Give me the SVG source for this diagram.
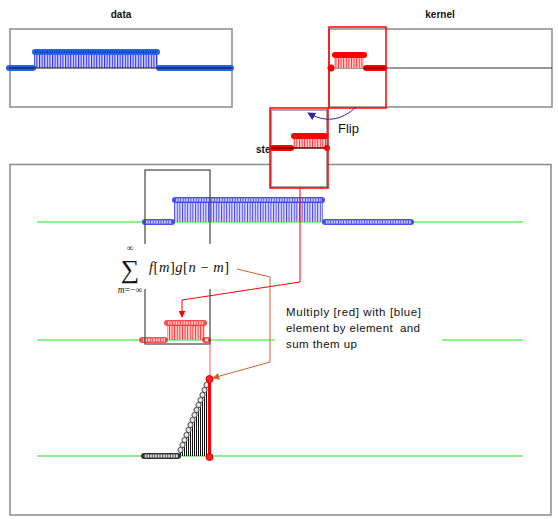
<svg xmlns="http://www.w3.org/2000/svg" width="559" height="519" viewBox="0 0 559 519">
<style>
.frame{fill:#fff;stroke:#8a8a8a;stroke-width:1.5}
.title{font-family:"Liberation Sans",Arial,sans-serif;font-weight:bold;font-size:10px;fill:#111;text-anchor:middle}
.base{stroke:#111;stroke-width:1}
.green{stroke:#66ee66;stroke-width:1.5}
.bTop{stroke:#2563e6;stroke-width:6;stroke-linecap:round}
.bTopIn{stroke:#0830b8;stroke-width:2;stroke-dasharray:1 1.4}
.lb{stroke:#3a3aff;stroke-width:6;stroke-linecap:round;opacity:.9}
.lbIn{stroke:#d0d0ff;stroke-width:3}
.lbDot{stroke:#2a2aff;stroke-width:3;stroke-dasharray:0.8 1.8}
.rTop{stroke:#ff0000;stroke-width:6;stroke-linecap:round}
.lr{stroke:#ff3030;stroke-width:6;stroke-linecap:round;opacity:.85}
.lrIn{stroke:#ffd0d0;stroke-width:3}
.lrDot{stroke:#ff2020;stroke-width:3;stroke-dasharray:0.8 1.8}
.lk{stroke:#333;stroke-width:6;stroke-linecap:round}
.lkIn{stroke:#ddd;stroke-width:3}
.lkDot{stroke:#333;stroke-width:3;stroke-dasharray:0.8 1.8}
.note{font-family:"Liberation Sans",Arial,sans-serif;font-size:11.5px;fill:#111;white-space:pre}
.math{font-family:"Liberation Serif","Times New Roman",serif;fill:#111}
</style>
<defs>
<pattern id="pBlue" width="2.6" height="20" patternUnits="userSpaceOnUse"><rect width="2.6" height="20" fill="#dcdcff"/><rect width="1.1" height="20" fill="#2a2aff"/></pattern>
<pattern id="pBlue2" width="2.6" height="20" patternUnits="userSpaceOnUse"><rect width="2.6" height="20" fill="#e0e0ff"/><rect width="1" height="20" fill="#4040ff"/></pattern>
<pattern id="pRed" width="2.6" height="20" patternUnits="userSpaceOnUse"><rect width="2.6" height="20" fill="#ffd4d4"/><rect width="1" height="20" fill="#ff3030"/></pattern>
<marker id="aRed" viewBox="0 0 10 10" refX="9" refY="5" markerWidth="7" markerHeight="7" orient="auto"><path d="M0,0 L10,5 L0,10 z" fill="#ff0000"/></marker>
<marker id="aOr" viewBox="0 0 10 10" refX="9" refY="5" markerWidth="7" markerHeight="7" orient="auto"><path d="M0,0 L10,5 L0,10 z" fill="#c8642c"/></marker>
<marker id="aFlip" viewBox="0 0 10 10" refX="9" refY="5" markerWidth="8" markerHeight="8" orient="auto"><path d="M0,0 L10,5 L0,10 z" fill="#3322aa"/></marker>
</defs>
<rect width="559" height="519" fill="#fff"/>

<!-- data plot -->
<g id="data">
<text class="title" x="121" y="18">data</text>
<rect class="frame" x="10" y="29" width="222" height="78"/>
<rect x="34" y="52" width="124" height="16" fill="url(#pBlue)"/>
<line class="bTop" x1="35" y1="52" x2="157" y2="52"/>
<line class="bTopIn" x1="35" y1="52" x2="157" y2="52"/>
<line class="bTop" x1="9" y1="68" x2="33" y2="68"/>
<line class="bTop" x1="159" y1="68" x2="231" y2="68"/>
<line class="base" x1="9" y1="68" x2="232" y2="68" stroke-width="1.5"/>
</g>

<!-- kernel plot -->
<g id="kernel">
<text class="title" x="440" y="18">kernel</text>
<rect class="frame" x="329" y="29" width="223" height="78"/>
<line x1="329" y1="68" x2="552" y2="68" stroke="#333" stroke-width="1.2"/>
<rect x="334" y="56" width="30" height="12" fill="url(#pRed)"/>
<line class="rTop" x1="335" y1="55" x2="364" y2="55"/>
<line class="rTop" x1="366" y1="68" x2="384" y2="68"/>
<line x1="364" y1="68" x2="386" y2="68" stroke="#800" stroke-width="1.5"/>
<circle cx="331" cy="68" r="3.5" fill="#ff0000"/>
<rect x="329" y="27" width="57" height="81" fill="none" stroke="#ff0000" stroke-width="1.5"/>
</g>

<!-- main panel -->
<g id="panel">
<rect class="frame" x="10" y="164.5" width="541" height="350.5"/>
<line class="green" x1="37" y1="222" x2="523" y2="222"/>
<line class="green" x1="37" y1="340" x2="275" y2="340"/>
<line class="green" x1="442" y1="340" x2="523" y2="340"/>
<line class="green" x1="37" y1="456" x2="523" y2="456"/>
</g>

<!-- blue sliding data -->
<g id="data-shift">
<rect x="174" y="200" width="149" height="22" fill="url(#pBlue2)"/>
<line class="lb" x1="175" y1="200" x2="322" y2="200"/>
<line class="lbIn" x1="175" y1="200" x2="322" y2="200"/>
<line class="lbDot" x1="175" y1="200" x2="322" y2="200"/>
<line class="lb" x1="145" y1="222" x2="172" y2="222"/>
<line class="lbIn" x1="145" y1="222" x2="172" y2="222"/>
<line class="lbDot" x1="145" y1="222" x2="172" y2="222"/>
<line class="lb" x1="325" y1="222" x2="411" y2="222"/>
<line class="lbIn" x1="325" y1="222" x2="411" y2="222"/>
<line class="lbDot" x1="325" y1="222" x2="411" y2="222"/>
</g>

<!-- red kernel in window -->
<g id="kernel-shift">
<rect x="167" y="323" width="38" height="17" fill="url(#pRed)"/>
<line class="lr" x1="167" y1="323" x2="204" y2="323"/>
<line class="lrIn" x1="167" y1="323" x2="204" y2="323"/>
<line class="lrDot" x1="167" y1="323" x2="204" y2="323"/>
<line class="lr" x1="142" y1="340" x2="165" y2="340"/>
<line class="lrIn" x1="142" y1="340" x2="165" y2="340"/>
<line class="lrDot" x1="142" y1="340" x2="165" y2="340"/>
<line class="lr" x1="205" y1="340" x2="208" y2="340"/>
<line class="lrIn" x1="205" y1="340" x2="208" y2="340"/>
</g>

<!-- window box -->
<g id="window">
<rect x="145" y="170" width="65" height="174" fill="none" stroke="#444" stroke-width="1.2"/>
</g>

<!-- formula -->
<g id="formula">
<rect x="100" y="244" width="138" height="45" fill="#fff"/>
<text class="math" x="130" y="251" font-size="9" text-anchor="middle">∞</text>
<text class="math" x="130" y="278" font-size="26" text-anchor="middle">∑</text>
<text class="math" x="130" y="293" font-size="9.5" text-anchor="middle"><tspan font-style="italic">m</tspan>=−∞</text>
<text class="math" x="149" y="272" font-size="14.5" textLength="80" lengthAdjust="spacing"><tspan font-style="italic">f</tspan>[<tspan font-style="italic">m</tspan>]<tspan font-style="italic">g</tspan>[<tspan font-style="italic">n</tspan> − <tspan font-style="italic">m</tspan>]</text>
</g>

<!-- result -->
<g id="result">
<line x1="210" y1="344" x2="210" y2="379" stroke="#ff6060" stroke-width="1"/>
<g stroke="#111" stroke-width="1">
<line x1="180.5" y1="450" x2="180.5" y2="456"/>
<line x1="182.5" y1="445" x2="182.5" y2="456"/>
<line x1="184.5" y1="440" x2="184.5" y2="456"/>
<line x1="186.5" y1="435" x2="186.5" y2="456"/>
<line x1="188.5" y1="430" x2="188.5" y2="456"/>
<line x1="190.5" y1="425" x2="190.5" y2="456"/>
<line x1="192.5" y1="420" x2="192.5" y2="456"/>
<line x1="194.5" y1="415" x2="194.5" y2="456"/>
<line x1="196.5" y1="410" x2="196.5" y2="456"/>
<line x1="198.5" y1="405" x2="198.5" y2="456"/>
<line x1="200.5" y1="400" x2="200.5" y2="456"/>
<line x1="202.5" y1="395" x2="202.5" y2="456"/>
<line x1="204.5" y1="390" x2="204.5" y2="456"/>
<line x1="206.5" y1="385" x2="206.5" y2="456"/>
</g>
<line class="lk" x1="144" y1="456" x2="178" y2="456"/>
<line class="lkIn" x1="144" y1="456" x2="178" y2="456"/>
<line class="lkDot" x1="144" y1="456" x2="178" y2="456"/>
<g fill="#e8e8e8" stroke="#444" stroke-width="1">
<circle cx="180.5" cy="450" r="2.6"/>
<circle cx="182.5" cy="445" r="2.6"/>
<circle cx="184.5" cy="440" r="2.6"/>
<circle cx="186.5" cy="435" r="2.6"/>
<circle cx="188.5" cy="430" r="2.6"/>
<circle cx="190.5" cy="425" r="2.6"/>
<circle cx="192.5" cy="420" r="2.6"/>
<circle cx="194.5" cy="415" r="2.6"/>
<circle cx="196.5" cy="410" r="2.6"/>
<circle cx="198.5" cy="405" r="2.6"/>
<circle cx="200.5" cy="400" r="2.6"/>
<circle cx="202.5" cy="395" r="2.6"/>
<circle cx="204.5" cy="390" r="2.6"/>
<circle cx="206.5" cy="385" r="2.6"/>
</g>
<line x1="209.5" y1="379" x2="209.5" y2="457" stroke="#ff0000" stroke-width="3"/>
<circle cx="209.5" cy="379" r="3.5" fill="#ff2020" stroke="#d00000"/>
<circle cx="209.5" cy="457" r="3.5" fill="#ff2020" stroke="#d00000"/>
</g>

<!-- note -->
<g id="note">
<text class="note" x="286" y="316" textLength="135" lengthAdjust="spacing">Multiply [red] with [blue]</text>
<text class="note" x="286" y="332" textLength="134" lengthAdjust="spacing">element by element  and</text>
<text class="note" x="286" y="348" textLength="71" lengthAdjust="spacing">sum them up</text>
</g>

<!-- step (flipped kernel) -->
<g id="step">
<text x="256" y="153" font-family="Liberation Sans,Arial,sans-serif" font-weight="bold" font-size="10" fill="#111">ste</text>
<rect x="270" y="108" width="58" height="80" fill="#fff"/>
<rect x="271" y="110" width="56" height="77" fill="none" stroke="#8a8a8a" stroke-width="1.5"/>
<rect x="293" y="137" width="33" height="11" fill="url(#pRed)"/>
<line class="rTop" x1="294" y1="136" x2="325" y2="136"/>
<line class="rTop" x1="273" y1="148" x2="291" y2="148"/>
<line x1="271" y1="148" x2="327" y2="148" stroke="#600" stroke-width="1.5"/>
<circle cx="327" cy="148" r="3" fill="#ff0000"/>
<rect x="270" y="108" width="58" height="80" fill="none" stroke="#ff0000" stroke-width="1.5"/>
<text x="338" y="133" font-family="Liberation Sans,Arial,sans-serif" font-size="13" fill="#111">Flip</text>
</g>

<!-- connectors -->
<g id="connectors" fill="none">
<path d="M356,107 Q334,128 308,113" stroke="#3322aa" stroke-width="1" marker-end="url(#aFlip)"/>
<polyline points="300,188 300,282 182,300 182,317" stroke="#ff0000" stroke-width="1" marker-end="url(#aRed)"/>
<polyline points="237,269 270,277 270,362 213,378" stroke="#c8642c" stroke-width="1" marker-end="url(#aOr)"/>
</g>
</svg>
